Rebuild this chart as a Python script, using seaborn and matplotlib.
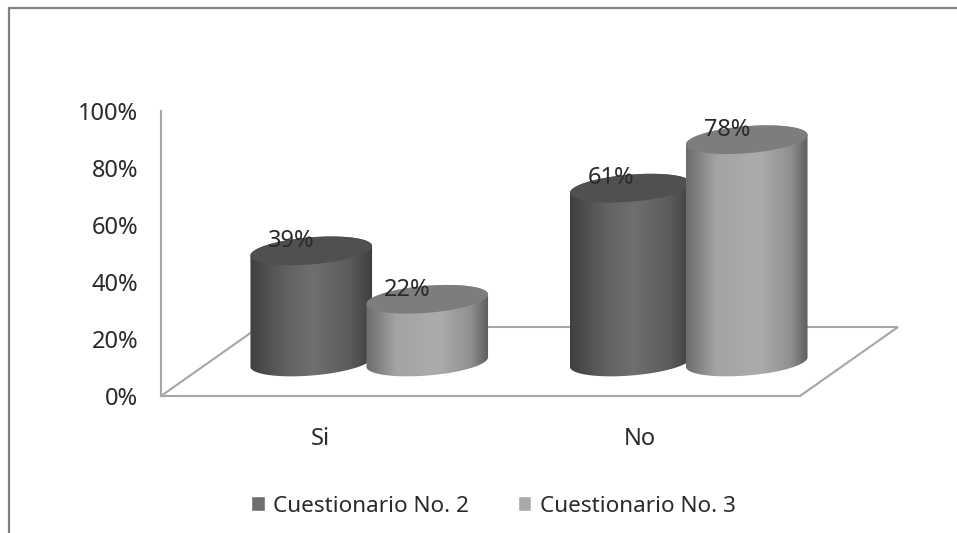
import numpy as np
import pandas as pd
import seaborn as sns
import matplotlib
matplotlib.use('Agg')
import matplotlib.pyplot as plt
from matplotlib.colors import LinearSegmentedColormap
from matplotlib.lines import Line2D
from matplotlib.patches import Polygon
from matplotlib.transforms import IdentityTransform

categories = ['Si', 'No']
cuestionario_2 = [39, 61]
cuestionario_3 = [22, 78]
series_names = ['Cuestionario No. 2', 'Cuestionario No. 3']
y_ticks = [0, 20, 40, 60, 80, 100]

df = pd.DataFrame({
    'categoria': categories * 2,
    'serie': [series_names[0]] * 2 + [series_names[1]] * 2,
    'valor': cuestionario_2 + cuestionario_3,
})

W, H = 957, 533
TEXT = '#2a2a2a'
LINE = '#a6a6a6'
FONT = 17
LEGEND_FONT = 16.2

sns.set_theme(style='white')
plt.rcParams['font.family'] = ['Noto Sans', 'DejaVu Sans']

fig = plt.figure(figsize=(W / 100, H / 100), dpi=100, facecolor='white')


def px_axes(left, right, top, bottom):
    return fig.add_axes([left / W, 1 - bottom / H, (right - left) / W, (bottom - top) / H])


# flat axes with the ticks, and the cylinders on a copy pushed back half the floor depth
ax = px_axes(161, 800, 111, 396)
ax_bars = px_axes(161 + 48.5, 800 + 48.5, 111 - 34, 396 - 34)
ax_bars.set_zorder(2)

sns.barplot(data=df, x='categoria', y='valor', hue='serie', order=categories,
            hue_order=series_names, palette=['#6e6e6e', '#a9a9a9'], saturation=1,
            width=0.726, gap=-0.052, ax=ax_bars)
ax_bars.set_xlim(-0.5, 1.5)
ax_bars.set_ylim(0, 100)

# floor
dx, dy = 98 / 319.5, 69 / 2.85
ax.plot([-0.5, -0.5 + dx, 1.5 + dx, 1.5], [0, dy, dy, 0], color=LINE, lw=1.5,
        clip_on=False, solid_joinstyle='miter')
ax.set_xticks(range(len(categories)), categories)
ax.set_yticks(y_ticks, [f'{t}%' for t in y_ticks])
ax.set_xlim(-0.5, 1.5)
ax.set_ylim(0, 100)
ax.tick_params(axis='y', length=0, pad=16.5, labelsize=FONT, labelcolor=TEXT)
ax.tick_params(axis='x', length=0, pad=22, labelsize=FONT, labelcolor=TEXT)
sns.despine(ax=ax)
for side in ['left', 'bottom']:
    ax.spines[side].set_color(LINE)
    ax.spines[side].set_linewidth(1.5)

body_stops = {
    series_names[0]: [(0, '#3f3f3f'), (0.3, '#626262'), (0.52, '#6f6f6f'), (0.8, '#5c5c5c'), (1, '#3e3e3e')],
    series_names[1]: [(0, '#6c6c6c'), (0.25, '#a4a4a4'), (0.6, '#acacac'), (0.85, '#909090'), (1, '#5c5c5c')],
}
top_color = {series_names[0]: '#505050', series_names[1]: '#7d7d7d'}


def ellipse(cx, cy, a, b, t):
    tilt = np.radians(4.7)
    return np.column_stack([
        cx + a * np.cos(t) * np.cos(tilt) - b * np.sin(t) * np.sin(tilt),
        cy + a * np.cos(t) * np.sin(tilt) + b * np.sin(t) * np.cos(tilt),
    ])


z = 3
for name, container in zip(series_names, ax_bars.containers):
    cmap = LinearSegmentedColormap.from_list(name, body_stops[name])
    for bar in container:
        bar.set_visible(False)
        x0, w, val = bar.get_x(), bar.get_width(), bar.get_height()
        (p0x, p0y), (p1x, p1y) = ax_bars.transData.transform([(x0, 0), (x0 + w, val)])
        cx, a = (p0x + p1x) / 2, (p1x - p0x) / 2
        b = 13.5
        outline = np.vstack([
            ellipse(cx, p0y, a, b, np.linspace(np.pi, 2 * np.pi, 60)),
            ellipse(cx, p1y, a, b, np.linspace(0, np.pi, 60)),
        ])
        clip = Polygon(outline, closed=True, transform=IdentityTransform())
        im = ax_bars.imshow(np.linspace(0, 1, 256)[None, :], cmap=cmap, aspect='auto',
                            extent=[x0, x0 + w, -12, val + 12], interpolation='bilinear', zorder=z)
        im.set_clip_box(fig.bbox)
        im.set_clip_path(clip)
        top = Polygon(ellipse(cx, p1y, a, b, np.linspace(0, 2 * np.pi, 120)), closed=True,
                      transform=IdentityTransform(), facecolor=top_color[name], edgecolor='none',
                      zorder=z + 1, clip_on=False)
        ax_bars.add_artist(top)
        ax_bars.annotate(f'{val:.0f}%', (x0 + w / 2, val), xytext=(-14.4, 7), textcoords='offset points',
                         ha='center', va='center', fontsize=FONT, color=TEXT, zorder=20)
        z += 2

ax_bars.set_xlim(-0.5, 1.5)
ax_bars.set_ylim(0, 100)
ax_bars.axis('off')

sns.move_legend(ax_bars, 'center', bbox_to_anchor=(493 / W, 1 - 506 / H), bbox_transform=fig.transFigure,
                ncol=2, frameon=False, title=None, fontsize=LEGEND_FONT, labelcolor=TEXT,
                handlelength=0.62, handleheight=0.62, handletextpad=0.36, columnspacing=2.18,
                borderpad=0, borderaxespad=0)

# picture frame, only top and left edges are in the crop
fig.add_artist(Line2D([9 / W, 9 / W, 1], [0, 1 - 8 / H, 1 - 8 / H], color='#808080', lw=1.6,
                      solid_joinstyle='miter'))

fig.savefig('out.png', dpi=100)
